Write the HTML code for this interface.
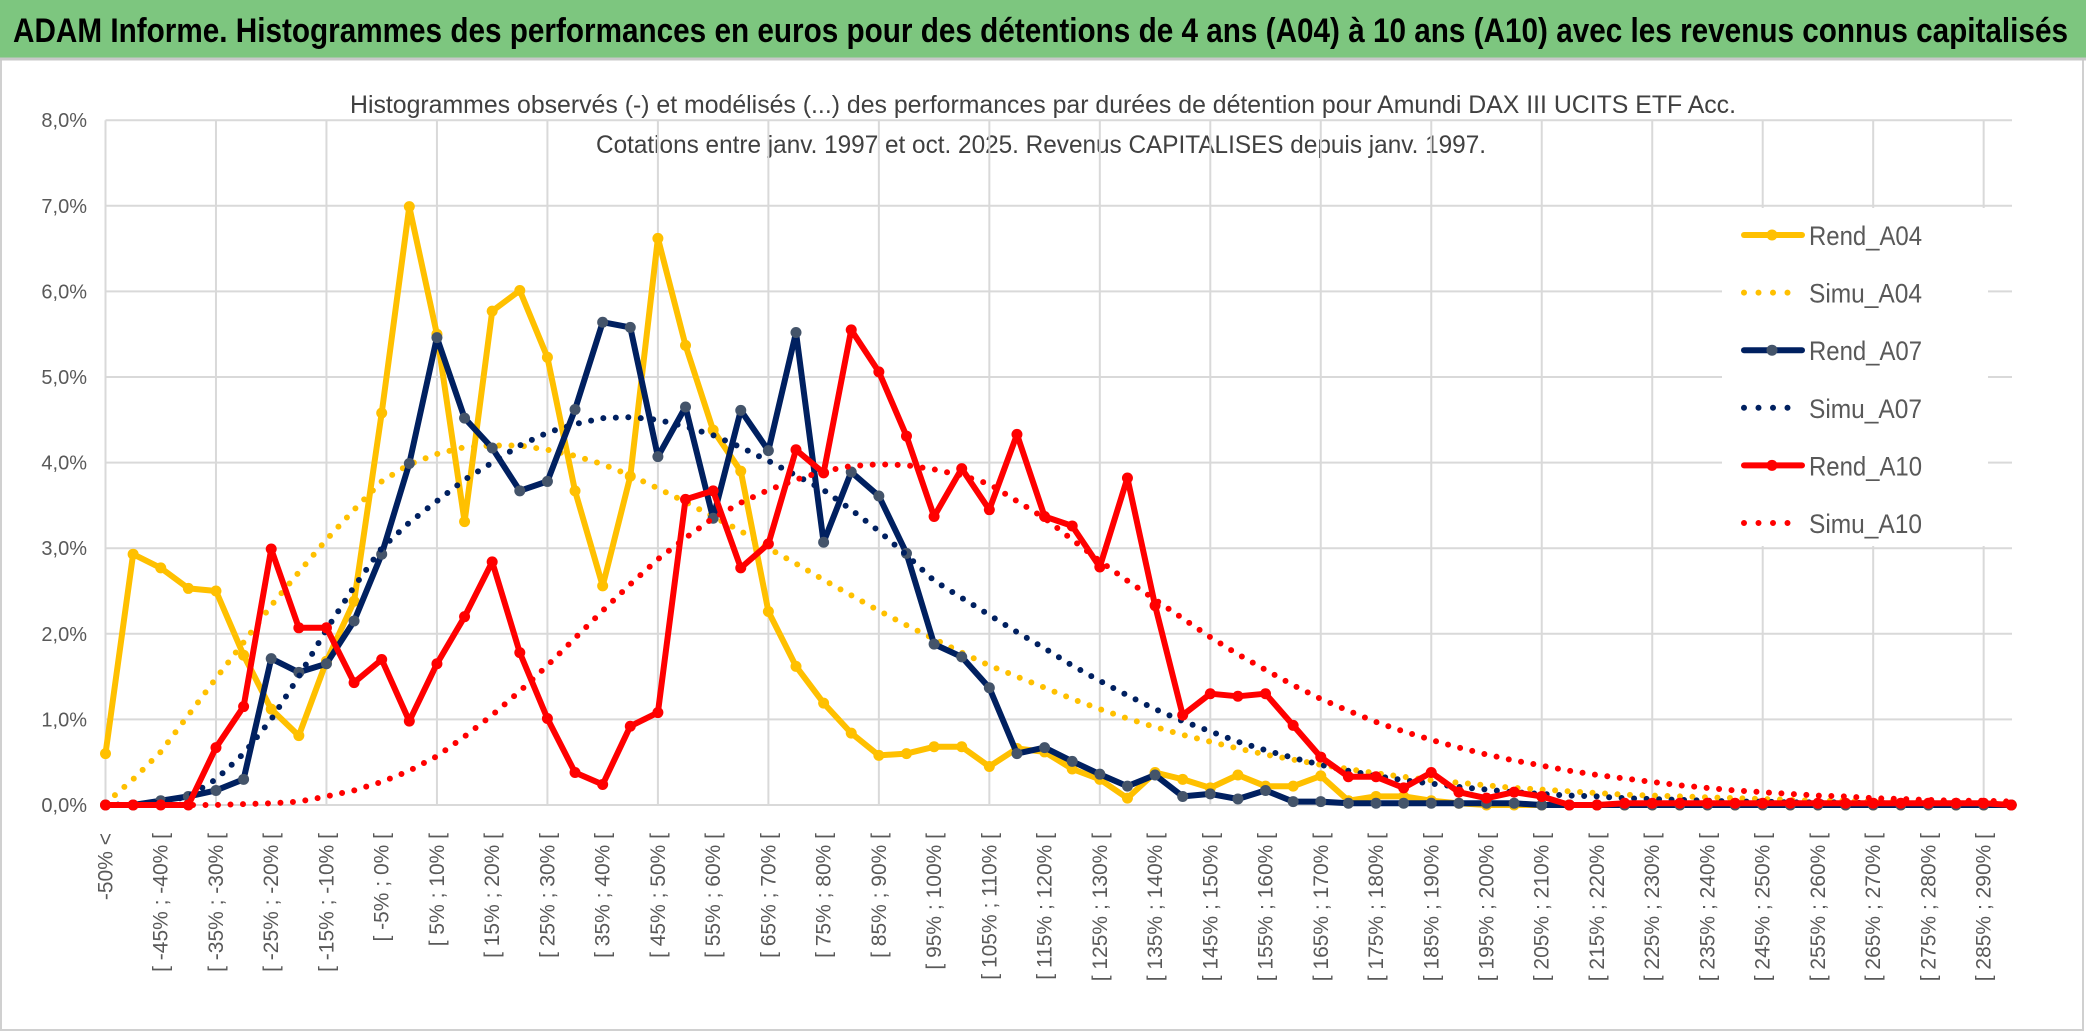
<!DOCTYPE html>
<html><head><meta charset="utf-8"><style>
html,body{margin:0;padding:0;background:#fff;}
svg{display:block;font-family:"Liberation Sans",sans-serif;}
</style></head><body>
<svg id="chart" width="2086" height="1033" viewBox="0 0 2086 1033" xmlns="http://www.w3.org/2000/svg">
<rect x="0" y="0" width="2086" height="1033" fill="#fff"/>
<rect x="1" y="1" width="2082" height="1029" fill="none" stroke="#d0d0d0" stroke-width="2"/>
<rect x="0" y="0" width="2086" height="58" fill="#7dc67f"/>
<line x1="0" y1="59" x2="2086" y2="59" stroke="#c8c8c8" stroke-width="3"/>
<text x="13" y="42" font-size="34" font-weight="bold" fill="#000" textLength="2055" lengthAdjust="spacingAndGlyphs">ADAM Informe. Histogrammes des performances en euros pour des détentions de 4 ans (A04) à 10 ans (A10) avec les revenus connus capitalisés</text>
<text x="350" y="113" font-size="25" fill="#404040" textLength="1386" lengthAdjust="spacingAndGlyphs">Histogrammes observés (-) et modélisés (...) des performances par durées de détention pour Amundi DAX III UCITS ETF Acc.</text>
<text x="596" y="153" font-size="25" fill="#404040" textLength="890" lengthAdjust="spacingAndGlyphs">Cotations entre janv. 1997 et oct. 2025. Revenus CAPITALISES depuis janv. 1997.</text>
<g id="grid"></g>
<g id="yaxis"></g>
<g id="xaxis"></g>
<g id="series"></g>
<g id="legend"></g>
</svg>
<script>
const yTicks = [0,1,2,3,4,5,6,7,8];
const yTickLabels = ["0,0%","1,0%","2,0%","3,0%","4,0%","5,0%","6,0%","7,0%","8,0%"];
const categories = ["-50% <"];
for (let k = 1; k < 70; k++) { categories.push("[ " + (-55 + 5*k) + "% ; " + (-50 + 5*k) + "% ["); }
const rendA04 = [0.60,2.93,2.77,2.53,2.50,1.75,1.12,0.81,1.68,2.38,4.58,6.99,5.50,3.31,5.77,6.01,5.23,3.67,2.56,3.84,6.62,5.37,4.38,3.90,2.26,1.62,1.19,0.84,0.58,0.60,0.68,0.68,0.45,0.66,0.62,0.42,0.30,0.08,0.38,0.30,0.20,0.35,0.22,0.22,0.34,0.05,0.10,0.10,0.05,0.02,0,0,0,0,0,0,0,0,0,0,0,0,0,0,0,0,0,0,0,0];
const simuA04 = [0.02,0.30,0.62,1.05,1.48,1.90,2.33,2.72,3.10,3.45,3.78,3.98,4.10,4.18,4.20,4.20,4.15,4.08,3.98,3.85,3.70,3.54,3.37,3.20,3.00,2.82,2.63,2.45,2.27,2.10,1.94,1.78,1.63,1.50,1.37,1.24,1.12,1.01,0.91,0.82,0.74,0.66,0.59,0.53,0.47,0.42,0.37,0.33,0.29,0.26,0.23,0.20,0.18,0.16,0.14,0.12,0.11,0.10,0.09,0.08,0.07,0.06,0.05,0.05,0.04,0.04,0.03,0.03,0.03,0.02];
const rendA07 = [0,0,0.05,0.10,0.17,0.30,1.71,1.55,1.65,2.15,2.93,3.99,5.46,4.52,4.17,3.67,3.78,4.62,5.64,5.58,4.07,4.65,3.35,4.61,4.14,5.52,3.07,3.89,3.61,2.94,1.88,1.73,1.37,0.60,0.67,0.51,0.36,0.22,0.35,0.10,0.13,0.07,0.17,0.04,0.04,0.02,0.02,0.02,0.02,0.02,0.02,0.02,0,0,0,0,0,0,0,0,0,0,0,0,0,0,0,0,0,0];
const simuA07 = [0,0.01,0.03,0.10,0.30,0.60,1.00,1.50,2.05,2.55,3.00,3.30,3.55,3.80,4.00,4.20,4.35,4.45,4.52,4.53,4.50,4.42,4.32,4.18,4.02,3.85,3.68,3.45,3.20,2.92,2.62,2.42,2.22,2.02,1.83,1.63,1.45,1.28,1.12,0.98,0.86,0.74,0.64,0.55,0.47,0.40,0.34,0.29,0.25,0.21,0.18,0.15,0.13,0.11,0.10,0.08,0.07,0.06,0.05,0.04,0.04,0.03,0.03,0.03,0.02,0.02,0.02,0.02,0.01,0.01];
const rendA10 = [0,0,0,0,0.67,1.15,2.99,2.07,2.07,1.43,1.70,0.98,1.65,2.20,2.84,1.78,1.01,0.38,0.24,0.92,1.08,3.57,3.67,2.77,3.05,4.15,3.88,5.55,5.06,4.31,3.37,3.93,3.45,4.33,3.37,3.26,2.78,3.82,2.33,1.05,1.30,1.27,1.30,0.93,0.56,0.33,0.33,0.20,0.38,0.15,0.08,0.15,0.10,0,0,0.02,0.02,0.02,0.02,0.02,0.02,0.02,0.02,0.02,0.02,0.02,0.02,0.02,0.02,0];
const simuA10 = [0,0,0,0,0,0.01,0.02,0.04,0.10,0.17,0.27,0.40,0.57,0.80,1.05,1.33,1.63,1.95,2.27,2.58,2.87,3.12,3.35,3.53,3.68,3.80,3.90,3.96,3.98,3.97,3.92,3.85,3.75,3.55,3.35,3.10,2.85,2.62,2.40,2.18,1.96,1.76,1.58,1.40,1.24,1.10,0.97,0.86,0.76,0.67,0.59,0.52,0.46,0.40,0.35,0.31,0.27,0.23,0.20,0.17,0.15,0.13,0.11,0.10,0.08,0.07,0.06,0.05,0.05,0.04];
const seriesNames = ["Rend_A04","Simu_A04","Rend_A07","Simu_A07","Rend_A10","Simu_A10"];

const NS = "http://www.w3.org/2000/svg";
const X0 = 105.5, XSTEP = 27.62, Y0 = 805, YUNIT = 85.6, XRIGHT = 2012;
function xScale(i){ return X0 + i*XSTEP; }
function yScale(v){ return Y0 - v*YUNIT; }
function mk(tag, attrs, parent){ const e = document.createElementNS(NS, tag); for (const k in attrs) e.setAttribute(k, attrs[k]); parent.appendChild(e); return e; }

const grid = document.getElementById('grid');
yTicks.forEach((t, i) => {
  const l = mk('line', {x1: xScale(0), x2: XRIGHT, y1: yScale(t), y2: yScale(t), stroke: '#d9d9d9', 'stroke-width': 2}, grid);
  
  
});
for (let i = 0; i < categories.length; i += 4) {
  const l = mk('line', {x1: xScale(i), x2: xScale(i), y1: yScale(8), y2: yScale(0), stroke: '#d9d9d9', 'stroke-width': 2}, grid);
  
  
}
const yaxis = document.getElementById('yaxis');
yTicks.forEach((t, i) => {
  const tx = mk('text', {x: 87, y: yScale(t) + 7, 'text-anchor': 'end', 'font-size': 20, fill: '#595959'}, yaxis);
  tx.textContent = yTickLabels[i];
  
  
});
const xaxis = document.getElementById('xaxis');
categories.forEach((c, i) => {
  if (i % 2) return;
  const x = xScale(i) + 7, y = 833;
  const tx = mk('text', {x: x, y: y, 'text-anchor': 'end', 'font-size': 21, fill: '#595959', transform: 'rotate(-90 ' + x + ' ' + y + ')'}, xaxis);
  tx.textContent = c;
  
  
});

const sg = document.getElementById('series');
function pts(vals){ return vals.map((v, i) => xScale(i).toFixed(1) + ',' + yScale(v).toFixed(1)).join(' '); }
function drawSolid(vals, color, mcolor, name){
  const g = mk('g', {}, sg);
  
  
  const pl = mk('polyline', {points: pts(vals), fill: 'none', stroke: color, 'stroke-width': 6, 'stroke-linejoin': 'round', 'stroke-linecap': 'round'}, g);
  
  
  vals.forEach((v, i) => {
    const c = mk('circle', {cx: xScale(i), cy: yScale(v), r: 5.5, fill: mcolor}, g);
    
    
  });
}
function drawDotted(vals, color, name){
  const pl = mk('polyline', {points: pts(vals), fill: 'none', stroke: color, 'stroke-width': 6, 'stroke-linecap': 'round', 'stroke-dasharray': '0 12.5'}, sg);
  
  
}
drawSolid(rendA04, '#ffc000', '#ffc000', 'rend-a04-series');
drawDotted(simuA04, '#ffc000', 'simu-a04-series');
drawSolid(rendA07, '#002060', '#44546a', 'rend-a07-series');
drawDotted(simuA07, '#002060', 'simu-a07-series');
drawSolid(rendA10, '#ff0000', '#ff0000', 'rend-a10-series');
drawDotted(simuA10, '#ff0000', 'simu-a10-series');

const lg = document.getElementById('legend');
const bg = mk('rect', {x: 1722, y: 208, width: 266, height: 338, fill: '#fff'}, lg);


const legColors = ['#ffc000','#ffc000','#002060','#002060','#ff0000','#ff0000'];
const legMarker = ['#ffc000', null, '#44546a', null, '#ff0000', null];
seriesNames.forEach((n, i) => {
  const y = 235 + i*57.6;
  const g = mk('g', {}, lg);
  
  
  if (legMarker[i]) {
    mk('line', {x1: 1744, x2: 1802, y1: y, y2: y, stroke: legColors[i], 'stroke-width': 6, 'stroke-linecap': 'round'}, g);
    mk('circle', {cx: 1772, cy: y, r: 5.5, fill: legMarker[i]}, g);
  } else {
    mk('line', {x1: 1744, x2: 1802, y1: y, y2: y, stroke: legColors[i], 'stroke-width': 6, 'stroke-linecap': 'round', 'stroke-dasharray': '0 14.5'}, g);
  }
  const t = mk('text', {x: 1809, y: y + 10, 'font-size': 27, fill: '#595959', textLength: 113, lengthAdjust: 'spacingAndGlyphs'}, g);
  t.textContent = n;
  
  
});
</script>
</body></html>
